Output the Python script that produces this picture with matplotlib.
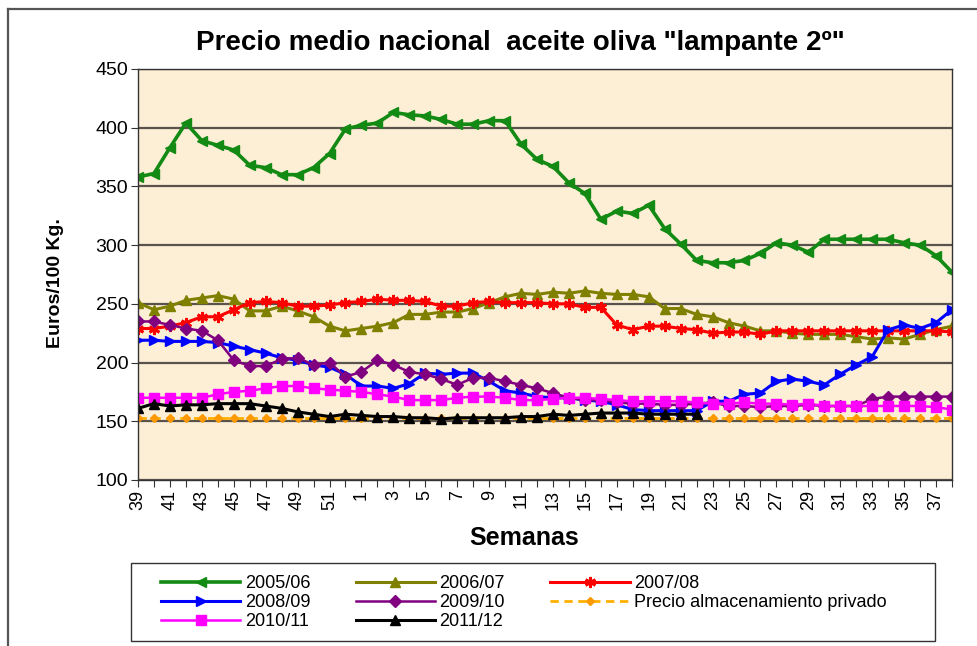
"""
Precio medio nacional aceite de oliva "lampante 2º" por semanas
"""

import numpy as np
import matplotlib
matplotlib.use("Agg")
import matplotlib.pyplot as plt
from matplotlib.lines import Line2D
from matplotlib.patches import Rectangle

plt.rcParams['font.family'] = ['Liberation Sans', 'DejaVu Sans']

# ─── Data ─────────────────────────────────────────────────────────────────────

WEEKS = list(range(39, 53)) + list(range(1, 39))

s2005 = [358, 361, 383, 404, 389, 385, 381, 368, 366, 360, 360, 366, 378, 399,
         402, 404, 413, 411, 410, 407, 403, 403, 406, 406, 386, 373, 367, 353,
         344, 322, 329, 327, 334, 314, 301, 287, 285, 285, 287, 293, 302, 300,
         294, 305, 305, 305, 305, 305, 302, 300, 291, 277]

s2006 = [251, 245, 248, 253, 255, 257, 254, 244, 244, 248, 244, 239, 231, 227,
         229, 231, 234, 241, 241, 243, 243, 246, 251, 256, 259, 258, 260, 259,
         261, 259, 258, 258, 256, 246, 246, 241, 239, 234, 231, 227, 227, 225,
         224, 224, 224, 222, 220, 221, 220, 224, 228, 231]

s2007 = [229, 229, 231, 234, 239, 239, 245, 251, 252, 251, 248, 248, 249, 251,
         252, 254, 253, 253, 252, 248, 248, 251, 252, 251, 251, 251, 250, 250,
         247, 247, 232, 228, 231, 231, 229, 228, 225, 226, 226, 224, 227, 227,
         227, 227, 227, 227, 227, 227, 227, 227, 227, 226]

s2008 = [219, 219, 218, 218, 218, 217, 214, 211, 208, 204, 202, 198, 196, 190,
         180, 180, 178, 182, 191, 190, 191, 191, 184, 176, 174, 171, 170, 170,
         168, 167, 164, 160, 159, 159, 159, 159, 167, 167, 173, 174, 184, 186,
         184, 181, 190, 198, 205, 228, 232, 229, 234, 245]

s2009 = [235, 235, 232, 229, 227, 219, 202, 197, 197, 203, 204, 198, 200, 188,
         192, 202, 198, 192, 190, 186, 181, 187, 187, 184, 181, 178, 174, 170,
         168, 168, 166, 165, 165, 164, 164, 165, 166, 163, 163, 162, 163, 163,
         164, 163, 163, 163, 169, 171, 171, 171, 171, 171]

almacenamiento = [152.4] * 52

s2010 = [170, 170, 170, 170, 170, 173, 175, 176, 178, 180, 180, 178, 177, 176,
         175, 173, 171, 168, 168, 168, 170, 171, 171, 170, 168, 168, 169, 170,
         170, 169, 168, 167, 167, 167, 167, 166, 165, 165, 166, 165, 165, 164,
         165, 163, 163, 163, 163, 163, 163, 163, 162, 160]

# 2011/12 only runs up to week 22
s2011 = [161, 165, 163, 164, 164, 165, 165, 165, 163, 161, 158, 156, 154, 156,
         155, 154, 154, 153, 153, 152, 153, 153, 153, 153, 154, 154, 156, 155,
         156, 157, 157, 157, 156, 156, 156, 156]

# ─── Series styles ────────────────────────────────────────────────────────────

SERIES = [
    ("2005/06", s2005, dict(color="#138a13", marker="<", lw=2.6, ms=7)),
    ("2006/07", s2006, dict(color="#808000", marker="^", lw=2.2, ms=7)),
    ("2007/08", s2007, dict(color="#ff0000", marker=(6, 2, 0), lw=2.2, ms=8, mew=2)),
    ("2008/09", s2008, dict(color="#0000ff", marker=">", lw=2.2, ms=7)),
    ("2009/10", s2009, dict(color="#800080", marker="D", lw=1.8, ms=6)),
    ("Precio almacenamiento privado", almacenamiento,
     dict(color="#ffb000", marker="D", lw=2.0, ms=4, ls=(0, (3, 2)),
          mfc="#ff9900", mec="#ff9900")),
    ("2010/11", s2010, dict(color="#ff00ff", marker="s", lw=1.8, ms=7)),
    ("2011/12", s2011, dict(color="#000000", marker="^", lw=2.2, ms=7)),
]

W, H = 978, 646

# ─── Figure ───────────────────────────────────────────────────────────────────

fig = plt.figure(figsize=(W / 100, H / 100), dpi=100)
fig.patch.set_facecolor("white")

ax = fig.add_axes([0.1411, 0.2570, 0.8323, 0.6362])
ax.set_facecolor("#fcefd6")

handles = {}
for name, values, style in SERIES:
    x = np.arange(len(values))
    line, = ax.plot(x, values, label=name, **style)
    handles[name] = line

ax.set_xlim(0, len(WEEKS) - 1)
ax.set_ylim(100, 450)
ax.set_yticks(np.arange(100, 451, 50))
ax.set_xticks(np.arange(len(WEEKS)))
ax.set_xticklabels([str(w) if i % 2 == 0 else "" for i, w in enumerate(WEEKS)],
                   rotation=90, fontsize=13)
ax.tick_params(axis="y", labelsize=14, length=5, color="#333333", pad=2)
ax.tick_params(axis="x", length=5, color="#333333", pad=2)

ax.grid(axis="y", color="#5a524c", lw=1.6)
ax.set_axisbelow(True)
for sp in ax.spines.values():
    sp.set_color("#333333")
    sp.set_linewidth(1.0)

# ─── Texts ────────────────────────────────────────────────────────────────────

fig.text(520 / W, 1 - 43 / H, 'Precio medio nacional  aceite oliva "lampante 2º"',
         ha="center", va="center", fontsize=20, fontweight="bold")
fig.text(56 / W, 1 - 283 / H, "Euros/100 Kg.", rotation=90,
         ha="center", va="center", fontsize=14, fontweight="bold")
fig.text(524 / W, 1 - 538 / H, "Semanas",
         ha="center", va="center", fontsize=18, fontweight="bold")

# ─── Legend (row-wise like the original) ──────────────────────────────────────

order = ["2005/06", "2008/09", "2010/11",
         "2006/07", "2009/10", "2011/12",
         "2007/08", "Precio almacenamiento privado"]
leg = fig.legend([handles[k] for k in order], order, ncol=3,
                 loc="upper left", bbox_to_anchor=(161 / W, 1 - 575 / H),
                 fontsize=13, frameon=False, borderpad=0, borderaxespad=0,
                 handlelength=4.4, columnspacing=2.5, labelspacing=0.12,
                 handletextpad=0.25)

fig.add_artist(Rectangle((131 / W, 1 - 641 / H), (935 - 131) / W, (641 - 563) / H,
                         transform=fig.transFigure, fill=False,
                         edgecolor="#333333", lw=1.0))

# ─── Outer border of the chart ────────────────────────────────────────────────

fig.add_artist(Line2D([8 / W, 8 / W], [0, 1 - 9 / H],
                      transform=fig.transFigure, color="#555555", lw=1.6))
fig.add_artist(Line2D([8 / W, 1], [1 - 9 / H, 1 - 9 / H],
                      transform=fig.transFigure, color="#555555", lw=1.6))

fig.savefig("out.png", dpi=100)
